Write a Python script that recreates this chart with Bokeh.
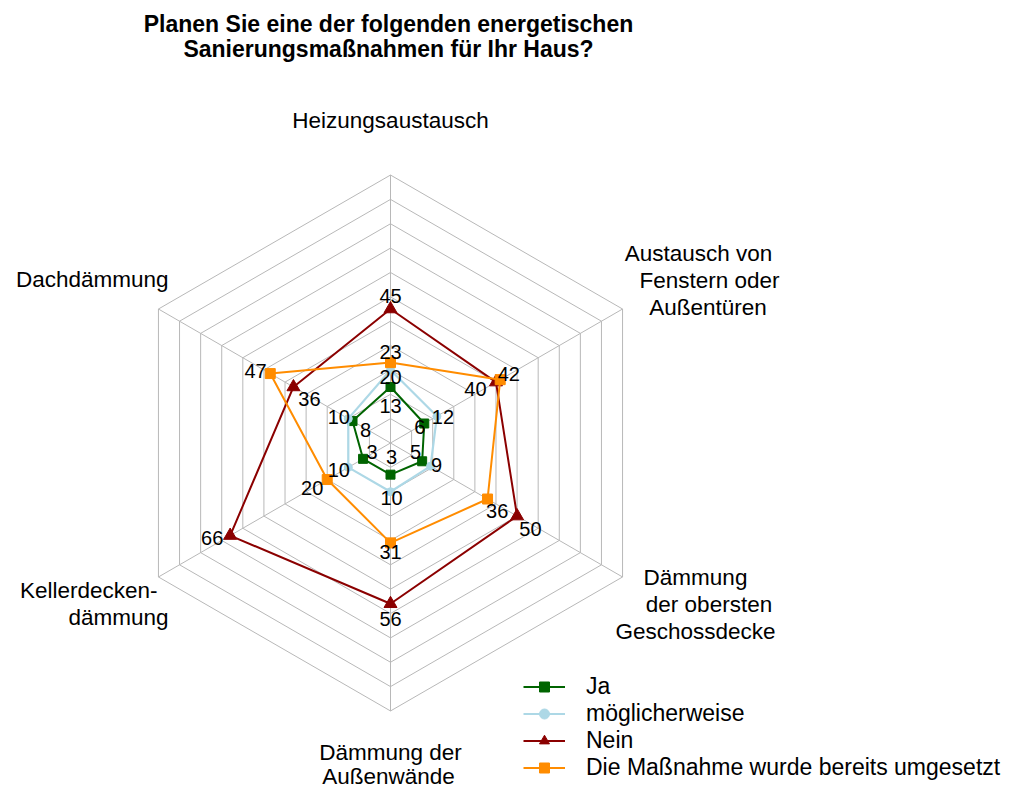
import numpy as np
from bokeh.plotting import figure
from bokeh.models import Range1d, Legend, LegendItem
from bokeh.core.properties import value
from bokeh.embed import file_html
from bokeh.resources import INLINE

# ---------------- data ----------------
categories = ["Heizungsaustausch",
              "Austausch von Fenstern oder Außentüren",
              "Dämmung der obersten Geschossdecke",
              "Dämmung der Außenwände",
              "Kellerdeckendämmung",
              "Dachdämmung"]
series_names = ["Ja", "möglicherweise", "Nein", "Die Maßnahme wurde bereits umgesetzt"]
ja = [13, 6, 5, 3, 3, 8]
moeglich = [20, 12, 9, 10, 10, 10]
nein = [45, 40, 50, 56, 66, 36]
umgesetzt = [23, 42, 36, 31, 20, 47]
r_min, r_max, r_step = -10, 100, 10
title_lines = ["Planen Sie eine der folgenden energetischen",
               "Sanierungsmaßnahmen für Ihr Haus?"]

# ---------------- styles / layout ----------------
FONT = "Liberation Sans"
W, H = 1016, 792
K = 2.436                 # pixels per value unit
CX, CY = 390.0, 442.5     # centre of radar on the canvas (pixels)

colors = ["#006400", "#add8e6", "#8b0000", "#ff8c00"]
markers = ["square", "circle", "triangle", "square"]
msizes = [9, 8, 13, 10]
lwidths = [2, 2.2, 2, 2]

# label offsets (screen px) per series per axis
label_off = [
    [(0, 19.5), (-4.5, 3.7), (-6.6, -9), (1, -18), (9, -6.6), (13, 9.4)],
    [(0, 7.3), (6, 1), (6, -1.3), (1, 6), (-9.5, 3), (-9.5, -1.4)],
    [(0, -13.5), (-20.5, 6.7), (13.4, 12.7), (0, 15), (-18, 2.3), (16, 11.8)],
    [(0, -11), (8.6, -5.2), (9.7, 11.5), (0, 9.3), (-15, 8.3), (-14.7, -2.3)],
]

# axis label lines: (text, x, baseline y, align) in page pixels
axis_label_lines = [
    ("Heizungsaustausch", 390, 128, "center"),
    ("Austausch von", 698, 261, "center"),
    ("Fenstern oder", 709, 288, "center"),
    ("Außentüren", 707.5, 315, "center"),
    ("Dämmung", 695, 585, "center"),
    ("der obersten", 708.5, 612, "center"),
    ("Geschossdecke", 695, 639, "center"),
    ("Dämmung der", 390, 760, "center"),
    ("Außenwände", 388, 784, "center"),
    ("Kellerdecken-", 157, 598, "right"),
    ("dämmung", 168, 625, "right"),
    ("Dachdämmung", 168, 287, "right"),
]
AX_FS = 22.5
TITLE_FS = 23


def at(px, py):
    """page pixel -> data coordinates"""
    return (px - CX) / K, (CY - py) / K


p = figure(width=W, height=H, output_backend="svg", toolbar_location=None,
           x_range=Range1d(-CX / K, (W - CX) / K),
           y_range=Range1d(-(H - CY) / K, CY / K),
           x_axis_type=None, y_axis_type=None,
           min_border=0, outline_line_color=None,
           background_fill_color="white", border_fill_color="white")
p.grid.visible = False

n = len(categories)
theta = np.pi / 2 - np.arange(n) * 2 * np.pi / n
closed = np.append(theta, theta[0])

# grid hexagons
GRID = "#b8b8b8"
ring_vals = np.arange(0, r_max + r_step, r_step)
p.multi_line([list((v - r_min) * np.cos(closed)) for v in ring_vals],
             [list((v - r_min) * np.sin(closed)) for v in ring_vals],
             line_color=GRID, line_width=1)
R = r_max - r_min
p.segment(x0=[0] * n, y0=[0] * n, x1=list(R * np.cos(theta)), y1=list(R * np.sin(theta)),
          line_color=GRID, line_width=1)

all_series = [ja, moeglich, nein, umgesetzt]
items = []
for k, vals in enumerate(all_series):
    rr = np.array(vals, dtype=float) - r_min
    x = rr * np.cos(theta)
    y = rr * np.sin(theta)
    lr = p.line(list(np.append(x, x[0])), list(np.append(y, y[0])),
                line_color=colors[k], line_width=lwidths[k])
    sr = p.scatter(list(x), list(y), marker=markers[k], size=msizes[k],
                   fill_color=colors[k], line_color=colors[k])
    items.append(LegendItem(label=series_names[k], renderers=[lr, sr]))

# data labels (on top)
for k, vals in enumerate(all_series):
    rr = np.array(vals, dtype=float) - r_min
    x = rr * np.cos(theta)
    y = rr * np.sin(theta)
    for i in range(n):
        dx, dy = label_off[k][i]
        p.text(x=[x[i]], y=[y[i]], text=[str(vals[i])], x_offset=dx, y_offset=dy,
               text_align="center", text_baseline="middle",
               text_font=value(FONT), text_font_size="20px", text_color="black")

# axis labels (baseline -> middle of em box)
for txt, px, py, al in axis_label_lines:
    xx, yy = at(px, py - 0.35 * AX_FS)
    p.text(x=[xx], y=[yy], text=[txt], text_align=al, text_baseline="middle",
           text_font=value(FONT), text_font_size=f"{AX_FS}px", text_color="black")

# title
for txt, py in zip(title_lines, [32, 57]):
    xx, yy = at(388, py - 0.35 * TITLE_FS)
    p.text(x=[xx], y=[yy], text=[txt], text_align="center", text_baseline="middle",
           text_font=value(FONT), text_font_size=f"{TITLE_FS}px", text_font_style="bold",
           text_color="black")

legend = Legend(items=items, location=(523, 11.5), padding=0, margin=0,
                glyph_width=42, glyph_height=25, label_height=20, spacing=0,
                label_standoff=21, label_text_font=FONT, label_text_font_size="23px",
                label_text_color="black",
                border_line_color=None, background_fill_alpha=0)
p.add_layout(legend, "center")

open("out.html", "w").write(file_html(p, INLINE))
